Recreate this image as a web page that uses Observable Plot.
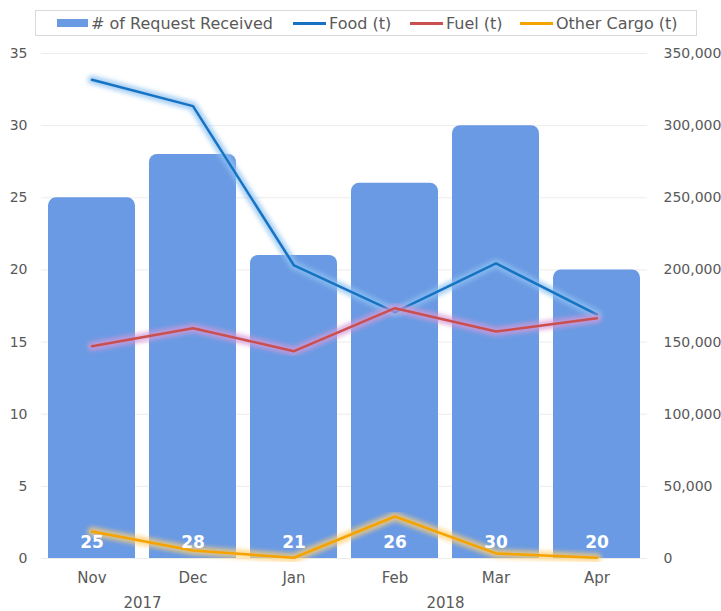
<!DOCTYPE html>
<html><head><meta charset="utf-8">
<script src="https://cdn.jsdelivr.net/npm/d3@7"></script>
<script src="https://cdn.jsdelivr.net/npm/@observablehq/plot@0.6"></script>
<style>
body{margin:0;background:#fff;font-family:"DejaVu Sans",sans-serif;}
#wrap{position:relative;width:721px;height:611px;}
#legend{position:absolute;left:35px;top:10px;width:662px;height:26px;border:1px solid #d9d9d9;box-sizing:border-box;font-size:16px;color:#595959;background:#fff;}
.item{position:absolute;top:0;height:24px;display:flex;align-items:center;white-space:nowrap;}
.sw{display:inline-block;margin-right:3px;}
</style></head>
<body><div id="wrap"><div id="chart"></div><div id="legend"></div></div>
<script>
const months = ["Nov","Dec","Jan","Feb","Mar","Apr"];
const years = ["2017","2017","2018","2018","2018","2018"];
const requests = [25,28,21,26,30,20];
const food = [331800,313500,203100,170700,204500,169100];
const fuel = [147100,159600,143700,173500,157300,166500];
const other = [18700,5500,500,29100,3500,500];
const leftTicks = [0,5,10,15,20,25,30,35];
const rightMax = 350000, leftMax = 35;
const k = rightMax/leftMax;

const colors = {bar:"#6a9ae3", food:"#1673c3", fuel:"#c9504f", other:"#f5a300"};
const glow = {food:"#8fc2f2", fuel:"#d79ad8", other:"#ffcf73"};
const seriesNames = {bar:"# of Request Received", food:"Food (t)", fuel:"Fuel (t)", other:"Other Cargo (t)"};

const data = months.map((m,i)=>({month:m, year:years[i], requests:requests[i], food:food[i], fuel:fuel[i], other:other[i]}));
const yearGroups = [];
years.forEach((y,i)=>{const g=yearGroups.find(e=>e.year===y); if(g) g.n++; else yearGroups.push({year:y, first:months[i], n:1});});

const W=721,H=611,mL=41,mR=74,mT=53,mB=53;
const pIn=0.14, pOut=0.07;
const step=Math.floor((W-mL-mR)/(months.length-pIn+2*pOut));

const lineMarks = [];
for (const key of ["food","fuel","other"]) {
  lineMarks.push(Plot.lineY(data,{x:"month",y:d=>d[key]/k,stroke:glow[key],strokeWidth:9,strokeOpacity:0.75}));
  lineMarks.push(Plot.lineY(data,{x:"month",y:d=>d[key]/k,stroke:colors[key],strokeWidth:2.5}));
}

const chart = Plot.plot({
  width:W, height:H, marginLeft:mL, marginRight:mR, marginTop:mT, marginBottom:mB,
  style:{fontFamily:"DejaVu Sans", fontSize:"14px", color:"#595959", background:"transparent"},
  x:{domain:months, paddingInner:pIn, paddingOuter:pOut, round:true, axis:null},
  y:{domain:[0,leftMax], axis:null},
  marks:[
    Plot.ruleY(leftTicks,{stroke:"#ececec"}),
    Plot.barY(data,{x:"month",y:"requests",fill:colors.bar,rx:8}),
    Plot.barY(data,{x:"month",y:d=>d.requests/2,fill:colors.bar}),
    ...lineMarks,
    Plot.text(data,{x:"month",y:0,text:d=>String(d.requests),fill:"#fff",fontWeight:"bold",fontSize:17,dy:-16,lineAnchor:"middle"}),
    Plot.axisY(leftTicks,{anchor:"left",tickSize:0,tickPadding:14,label:null,fontSize:14}),
    Plot.axisY(leftTicks,{anchor:"right",tickSize:0,tickPadding:16,label:null,fontSize:14,tickFormat:d=>d3.format(",")(d*k)}),
    Plot.axisX({tickSize:0,tickPadding:14,label:null,fontSize:15}),
    ...yearGroups.map(g=>Plot.text([g],{x:"first",text:"year",frameAnchor:"bottom",dx:(g.n-1)*step/2,dy:45,lineAnchor:"middle",fontSize:15,fill:"#595959"}))
  ]
});
document.getElementById("chart").appendChild(chart);

// blur glow layers
const svg = d3.select(chart);
const defs = svg.insert("defs",":first-child");
defs.append("filter").attr("id","glowblur").attr("x","-10%").attr("y","-10%").attr("width","120%").attr("height","120%")
  .append("feGaussianBlur").attr("stdDeviation",2.2);
svg.selectAll('g[aria-label="line"]').each(function(d,i){ if(i%2===0) d3.select(this).attr("filter","url(#glowblur)"); });

// legend
const legend = document.getElementById("legend");
const items = [
  {key:"bar", left:21, type:"bar"},
  {key:"food", left:257, type:"line"},
  {key:"fuel", left:374, type:"line"},
  {key:"other", left:484, type:"line"}
];
for (const it of items) {
  const el = document.createElement("div");
  el.className="item"; el.style.left=it.left+"px";
  const sw = document.createElement("span"); sw.className="sw";
  if (it.type==="bar") { sw.style.width="31px"; sw.style.height="8px"; sw.style.background=colors.bar; }
  else { sw.style.width="33px"; sw.style.height="3px"; sw.style.background=colors[it.key]; }
  el.appendChild(sw);
  const t = document.createElement("span"); t.textContent = seriesNames[it.key];
  el.appendChild(t);
  legend.appendChild(el);
}
</script></body></html>
